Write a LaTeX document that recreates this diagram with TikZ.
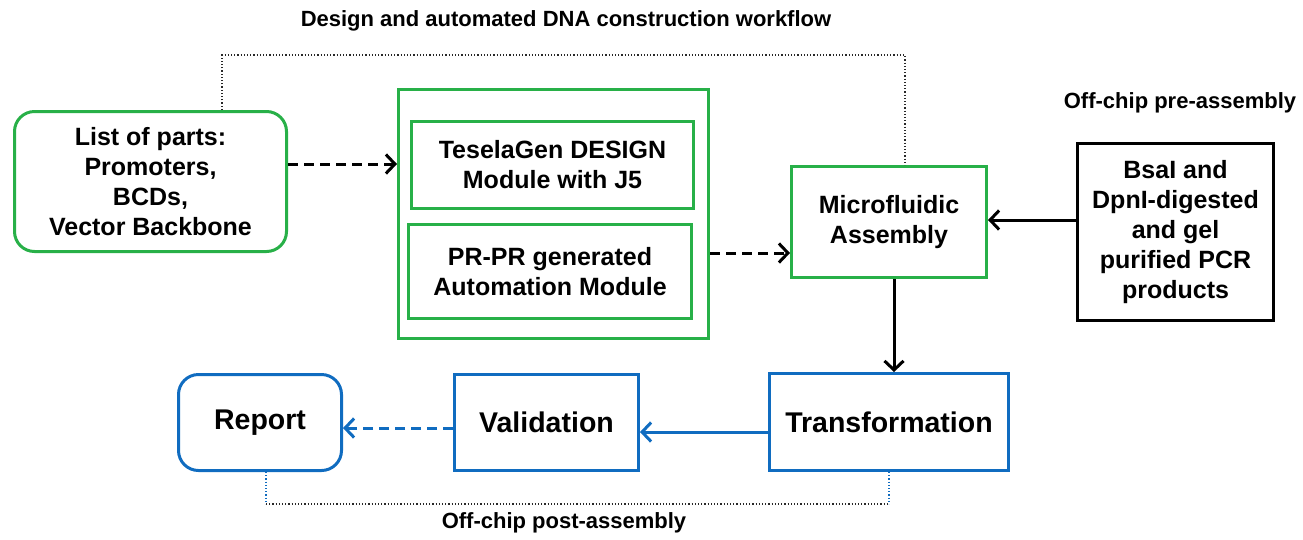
\documentclass[tikz,border=0pt]{standalone}
\usepackage{fontspec}
\setmainfont{Liberation Sans}
\usetikzlibrary{arrows.meta}
\definecolor{grn}{RGB}{40,176,72}
\definecolor{blu}{RGB}{16,108,192}
\definecolor{dgray}{RGB}{40,40,40}
\begin{document}
\begin{tikzpicture}[x=1pt,y=-1pt,
  box/.style={draw, line width=3pt, align=center, inner sep=0pt,
    font=\fontsize{25}{30}\selectfont\bfseries},
  gbox/.style={box, draw=grn},
  bbox/.style={box, draw=blu, font=\fontsize{28.5}{34}\selectfont\bfseries},
  kbox/.style={box, draw=black},
  lbl/.style={font=\fontsize{22}{26}\selectfont\bfseries},
  arr/.style={line width=3pt, -{Straight Barb[length=9pt,width=19pt]}},
  dasharr/.style={arr, dash pattern=on 10pt off 6pt},
  dot/.style={line width=1.2pt, dotted}
]
\useasboundingbox (0,0) rectangle (1303,539);

\node[lbl] (title) at (566,21) {Design and automated DNA construction workflow};
\node[lbl] (pre) at (1180,103) {Off-chip pre-assembly};
\node[lbl] (post) at (564,523) {Off-chip post-assembly};

\node[gbox, rounded corners=20pt, minimum width=272pt, minimum height=140pt] (list) at (150.5,181.5)
  {List of parts:\\Promoters,\\BCDs,\\Vector Backbone};
\node[gbox, minimum width=310pt, minimum height=249pt] (cont) at (553.5,214) {};
\node[gbox, minimum width=282pt, minimum height=87pt] (design) at (552.5,165)
  {TeselaGen DESIGN\\Module with J5};
\node[gbox, minimum width=283pt, minimum height=94pt] (auto) at (550,271.5)
  {PR-PR generated\\Automation Module};
\node[gbox, minimum width=195pt, minimum height=111pt] (micro) at (889,222)
  {Microfluidic\\Assembly};
\node[kbox, minimum width=196pt, minimum height=177pt] (pcr) at (1175.5,232)
  {BsaI and\\DpnI-digested\\and gel\\purified PCR\\products};
\node[bbox, minimum width=239pt, minimum height=97pt] (trans) at (889,422) {Transformation};
\node[bbox, minimum width=184pt, minimum height=96pt] (valid) at (546.5,422.5) {Validation};
\node[bbox, rounded corners=20pt, minimum width=163pt, minimum height=96pt] (report) at (260,422.5) {Report};

% arrows
\draw[dasharr] (list.east |- 0,164) -- (cont.west |- 0,164);
\draw[dasharr] (cont.east |- 0,253) -- (micro.west |- 0,253);
\draw[arr] (pcr.west |- 0,220) -- (micro.east |- 0,220);
\draw[arr] (micro.south -| 894,0) -- (trans.north -| 894,0);
\draw[arr, blu] (trans.west |- 0,432) -- (valid.east |- 0,432);
\draw[dasharr, blu] (valid.west |- 0,428) -- (report.east |- 0,428);

% dotted brackets
\coordinate (t1) at (222,55);
\coordinate (t2) at (905,55);
\draw[dot, dgray] (list.north -| t1) -- (t1) -- (t2) -- (micro.north -| t2);
\coordinate (b1) at (266,504);
\coordinate (b2) at (889,504);
\draw[dot, blu] (report.south -| b1) -- (b1);
\draw[dot, blu] (trans.south -| b2) -- (b2);
\draw[dot, dgray] (b1) -- (b2);
\end{tikzpicture}
\end{document}
